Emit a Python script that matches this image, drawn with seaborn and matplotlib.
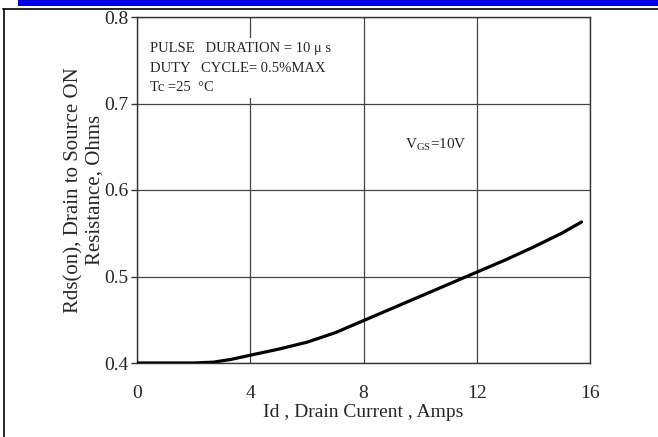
import matplotlib
matplotlib.use("Agg")
import matplotlib.pyplot as plt
import seaborn as sns
import pandas as pd
from matplotlib.patches import Rectangle
from matplotlib.lines import Line2D

# Data
drain_current = [0, 1, 2, 2.7, 3.3, 4, 5, 6, 7, 8, 9, 10, 11, 12, 13, 14, 15, 15.7]
rds_on = [0.400, 0.400, 0.400, 0.401, 0.404, 0.409, 0.416, 0.424, 0.435, 0.449,
          0.463, 0.477, 0.491, 0.505, 0.519, 0.534, 0.550, 0.563]
x_ticks = [0, 4, 8, 12, 16]
y_ticks = [0.4, 0.5, 0.6, 0.7, 0.8]
y_tick_labels = ["0.4", "0.5", "0.6", "0.7", "0.8"]

sns.set_style("white")
plt.rcParams['font.family'] = ['Liberation Serif', 'DejaVu Serif']
plt.rcParams['mathtext.default'] = 'regular'

fig = plt.figure(figsize=(6.58, 4.37), dpi=100)
W, H = 658, 437
ax = fig.add_axes([137 / W, 1 - 363 / H, (590 - 137) / W, (363 - 17) / H])

df = pd.DataFrame({"Id": drain_current, "Rds": rds_on})
sns.lineplot(data=df, x="Id", y="Rds", ax=ax, color="black", linewidth=2.3, zorder=4)

ax.set_xlim(0, 16)
ax.set_ylim(0.4, 0.8)
ax.set_xticks(x_ticks)
ax.set_yticks(y_ticks)
ax.set_yticklabels(y_tick_labels)
ax.grid(True, color="#444444", linewidth=0.9)
ax.set_axisbelow(True)
for s in ax.spines.values():
    s.set_color("#333333")
    s.set_linewidth(1.0)
ax.tick_params(axis="y", which="major", length=4, width=1.0, color="#333333",
               labelsize=14, pad=2, left=True)
ax.tick_params(axis="x", which="major", length=0, labelsize=14, pad=16)

ax.set_xlabel("Id , Drain Current , Amps", fontsize=14, labelpad=1)
ax.set_ylabel("Rds(on), Drain to Source ON\nResistance, Ohms", fontsize=15, labelpad=0,
              linespacing=1.15)

ax.text(0.45, 0.771, "PULSE   DURATION = 10 μ s\nDUTY   CYCLE= 0.5%MAX\nTc =25  °C",
        fontsize=10.5, va="top", ha="left", linespacing=1.65, zorder=5,
        bbox=dict(facecolor="white", edgecolor="none", pad=3))
ax.text(9.45, 0.652, "V$_{GS}$=10V", fontsize=11, va="center", ha="left", zorder=5)

# Page decorations
fig.patches.append(Rectangle((18 / W, 1 - 6 / H), 1 - 18 / W, 6 / H,
                             transform=fig.transFigure, facecolor="#0000e0",
                             edgecolor="none"))
fig.lines.append(Line2D([3 / W, 1], [1 - 8.5 / H, 1 - 8.5 / H],
                        transform=fig.transFigure, color="black", linewidth=1.2))
fig.lines.append(Line2D([3.5 / W, 3.5 / W], [0, 1 - 8.5 / H],
                        transform=fig.transFigure, color="black", linewidth=1.2))

fig.savefig("out.png", dpi=100)
